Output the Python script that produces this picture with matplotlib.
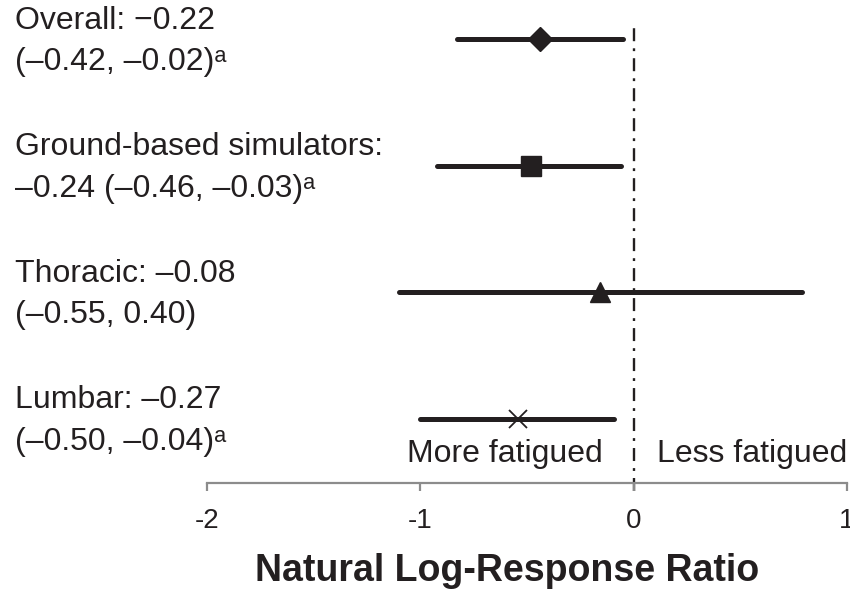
import matplotlib
matplotlib.use("Agg")
import matplotlib.pyplot as plt
import matplotlib.transforms as mtransforms

plt.rcParams['font.family'] = ['Liberation Sans', 'DejaVu Sans']

# subgroup labels, top to bottom
labels = [
    "Overall: \u22120.22\n(\u20130.42, \u20130.02)\u1d43",
    "Ground-based simulators:\n\u20130.24 (\u20130.46, \u20130.03)\u1d43",
    "Thoracic: \u20130.08\n(\u20130.55, 0.40)",
    "Lumbar: \u20130.27\n(\u20130.50, \u20130.04)\u1d43",
]
# positions as drawn on the axis
est = [-0.44, -0.48, -0.16, -0.54]
lo = [-0.83, -0.92, -1.10, -1.00]
hi = [-0.05, -0.06, 0.79, -0.09]
markers = ['D', 's', '^', 'x']
msizes = [12, 14, 14, 13]

ticks = [-2, -1, 0, 1]
tick_labels = ['-2', '-1', '0', '1']

ink = '#231f20'
grey = '#8c8c8c'

fig = plt.figure(figsize=(8.5, 5.9), dpi=100)
ax = fig.add_axes([207 / 850, 1 - 483 / 590, 640 / 850, 473 / 590])

for i in range(len(labels)):
    y = -i
    ax.plot([lo[i], hi[i]], [y, y], color=ink, lw=3.6, solid_capstyle='round', zorder=2)
    if markers[i] == 'x':
        ax.plot(est[i], y, marker='x', ms=msizes[i], mew=1.3, color=ink, ls='none', zorder=3)
    else:
        ax.plot(est[i], y, marker=markers[i], ms=msizes[i], color=ink, mec=ink, ls='none', zorder=3)

ax.set_xlim(-2, 1)
ax.set_ylim(-3.51, 0.23)

ax.axvline(0, ymin=-0.016, ymax=0.962, color=ink, lw=1.7, clip_on=False,
           dashes=(5.5, 3.0, 1.2, 3.0), zorder=1)

trans = mtransforms.blended_transform_factory(fig.transFigure, ax.transData)
for i, lab in enumerate(labels):
    ax.text(15 / 850, -i - 0.02, lab, transform=trans, ha='left', va='center',
            fontsize=23, color=ink, linespacing=1.5)

ax.text(-0.145, -3.28, 'More fatigued', ha='right', va='center', fontsize=23, color=ink)
ax.text(0.108, -3.28, 'Less fatigued', ha='left', va='center', fontsize=23, color=ink)

for s in ['top', 'right', 'left']:
    ax.spines[s].set_visible(False)
ax.spines['bottom'].set_color(grey)
ax.spines['bottom'].set_linewidth(1.6)
ax.set_yticks([])
ax.set_xticks(ticks)
ax.set_xticklabels(tick_labels)
ax.tick_params(axis='x', direction='out', length=6, width=1.6, color=grey,
               labelsize=20, labelcolor=ink, pad=12)
ax.set_xlabel('Natural Log-Response Ratio', fontsize=27, fontweight='bold', color=ink)
ax.xaxis.set_label_coords((507 - 207) / 640, -0.148)

fig.savefig('out.png', dpi=100)
